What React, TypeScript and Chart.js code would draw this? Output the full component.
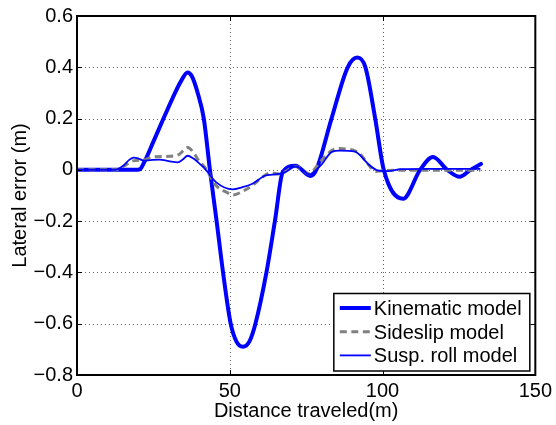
import React, { useEffect, useRef } from 'react';
import { Chart, registerables } from 'chart.js';

Chart.register(...registerables);

const xTickValues = [0, 50, 100, 150];
const yTickValues = [-0.8, -0.6, -0.4, -0.2, 0, 0.2, 0.4, 0.6];
const xTitle = 'Distance traveled(m)';
const yTitle = 'Lateral error (m)';
const seriesNames = ['Kinematic model', 'Sideslip model', 'Susp. roll model'];

const kinematicX = [0, 19, 20.5, 22, 25, 28.3, 31.3, 34, 36.2, 37.6, 39.5, 41.5, 43.5, 45.7, 47.8, 50.3, 52.2, 54.3, 56.4, 58.4, 62, 64.9, 67.3, 71.5, 76.4, 78.3, 83.3, 88.6, 91.7, 94.4, 97.6, 100.4, 106.7, 112.3, 116.5, 121.2, 125.2, 128.8, 132.2];
const kinematicY = [0, 0, 0.002, 0.03, 0.11, 0.2, 0.28, 0.345, 0.38, 0.365, 0.3, 0.2, 0, -0.2, -0.4, -0.6, -0.67, -0.69, -0.67, -0.6, -0.4, -0.19, -0.01, 0.016, -0.024, 0, 0.2, 0.4, 0.438, 0.4, 0.2, 0, -0.113, 0, 0.05, 0, -0.027, 0, 0.023];

const sideslipX = [0, 12.5, 15, 18.3, 21.6, 24.8, 30.3, 33.5, 36.2, 38, 39.5, 42.2, 45.5, 48.7, 51.2, 54, 57.4, 60.6, 63.4, 66, 68, 71.5, 73.5, 76, 78.7, 81, 83.6, 86, 89, 90.8, 92.4, 95.6, 97.6, 100, 105, 115, 132];
const sideslipY = [0, 0, 0.012, 0.035, 0.038, 0.05, 0.053, 0.061, 0.087, 0.07, 0.042, 0.004, -0.061, -0.086, -0.098, -0.085, -0.061, -0.029, -0.012, -0.016, -0.008, 0.013, 0.004, -0.016, 0.017, 0.05, 0.077, 0.083, 0.08, 0.075, 0.065, 0.017, -0.006, -0.003, -0.002, -0.002, -0.002];

const suspRollX = [0, 12.5, 15, 17, 18.5, 20, 21.8, 24, 27, 30, 33, 34.6, 36.2, 38, 40, 42.2, 45.5, 50.9, 54, 57.4, 61.7, 64, 68, 71.5, 73.5, 76, 78, 80, 83.4, 86, 91, 92.3, 95.3, 98.6, 101.9, 106, 115, 132];
const suspRollY = [0, 0, 0.015, 0.038, 0.048, 0.045, 0.036, 0.038, 0.04, 0.034, 0.029, 0.04, 0.055, 0.045, 0.025, 0, -0.048, -0.076, -0.068, -0.054, -0.022, -0.019, -0.01, 0.013, 0.004, -0.018, -0.003, 0.02, 0.07, 0.075, 0.071, 0.061, 0.023, -0.003, -0.005, 0.003, 0.004, 0.004];

const FONT = "'Liberation Sans', Arial, Helvetica, sans-serif";
const BLUE = '#0000ff';
const GRAY = '#808080';
const GRAY_DASH = [7, 4.5];

const toPoints = (xs: number[], ys: number[]) => xs.map((x, i) => ({ x, y: ys[i] }));

const fmtY = (v: number) => {
  const r = Math.round(v * 10) / 10;
  if (r === 0) return '0';
  return (r < 0 ? '\u2212' : '') + Math.abs(r).toFixed(1);
};

const matlabPlugin = {
  id: 'matlabDecor',
  beforeDatasetsDraw(chart: any) {
    const { ctx, chartArea, scales } = chart;
    const { left, right, top, bottom } = chartArea;
    ctx.save();
    ctx.strokeStyle = 'rgba(0,0,0,0.6)';
    ctx.lineWidth = 1;
    ctx.setLineDash([1, 3]);
    xTickValues.forEach((v) => {
      const px = Math.round(scales.x.getPixelForValue(v)) + 0.5;
      ctx.beginPath();
      ctx.moveTo(px, top);
      ctx.lineTo(px, bottom);
      ctx.stroke();
    });
    yTickValues.forEach((v) => {
      const py = Math.round(scales.y.getPixelForValue(v)) + 0.5;
      ctx.beginPath();
      ctx.moveTo(left, py);
      ctx.lineTo(right, py);
      ctx.stroke();
    });
    ctx.restore();
  },
  afterDatasetsDraw(chart: any) {
    const { ctx, chartArea, scales } = chart;
    const { left, right, top, bottom } = chartArea;
    ctx.save();
    ctx.setLineDash([]);
    ctx.strokeStyle = '#000';
    ctx.lineWidth = 2;
    ctx.strokeRect(left, top, right - left, bottom - top);
    const tl = 5;
    ctx.lineWidth = 1;
    xTickValues.forEach((v) => {
      const px = Math.round(scales.x.getPixelForValue(v)) + 0.5;
      ctx.beginPath();
      ctx.moveTo(px, bottom);
      ctx.lineTo(px, bottom - tl);
      ctx.moveTo(px, top);
      ctx.lineTo(px, top + tl);
      ctx.stroke();
    });
    yTickValues.forEach((v) => {
      const py = Math.round(scales.y.getPixelForValue(v)) + 0.5;
      ctx.beginPath();
      ctx.moveTo(left, py);
      ctx.lineTo(left + tl, py);
      ctx.moveTo(right, py);
      ctx.lineTo(right - tl, py);
      ctx.stroke();
    });

    // legend box
    const lw = 196;
    const lh = 77.5;
    const lx = right - 5.5 - lw;
    const ly = bottom - 4 - lh;
    ctx.fillStyle = '#fff';
    ctx.fillRect(lx, ly, lw, lh);
    ctx.strokeStyle = '#000';
    ctx.lineWidth = 1.5;
    ctx.strokeRect(lx, ly, lw, lh);
    const styles = [
      { color: BLUE, width: 4, dash: [] as number[] },
      { color: GRAY, width: 3, dash: GRAY_DASH },
      { color: BLUE, width: 1.8, dash: [] as number[] },
    ];
    ctx.font = `20px ${FONT}`;
    ctx.textBaseline = 'alphabetic';
    ctx.textAlign = 'left';
    seriesNames.forEach((name, i) => {
      const s = styles[i];
      const baseY = ly + 21.5 + i * 23.7;
      const lineY = baseY - 7;
      ctx.beginPath();
      ctx.strokeStyle = s.color;
      ctx.lineWidth = s.width;
      ctx.setLineDash(s.dash);
      ctx.moveTo(lx + 6, lineY);
      ctx.lineTo(lx + 37, lineY);
      ctx.stroke();
      ctx.setLineDash([]);
      ctx.fillStyle = '#000';
      ctx.fillText(name, lx + 40, baseY);
    });
    ctx.restore();
  },
};

export default function App() {
  const canvasRef = useRef<HTMLCanvasElement | null>(null);

  useEffect(() => {
    if (!canvasRef.current) return;
    const chart = new Chart(canvasRef.current, {
      type: 'line',
      data: {
        datasets: [
          {
            label: seriesNames[0],
            data: toPoints(kinematicX, kinematicY),
            borderColor: BLUE,
            borderWidth: 4,
            pointRadius: 0,
            cubicInterpolationMode: 'monotone',
            borderJoinStyle: 'round',
            borderCapStyle: 'round',
            fill: false,
            order: 3,
          },
          {
            label: seriesNames[1],
            data: toPoints(sideslipX, sideslipY),
            borderColor: GRAY,
            borderWidth: 3,
            borderDash: GRAY_DASH,
            pointRadius: 0,
            cubicInterpolationMode: 'monotone',
            fill: false,
            order: 2,
          },
          {
            label: seriesNames[2],
            data: toPoints(suspRollX, suspRollY),
            borderColor: BLUE,
            borderWidth: 1.8,
            pointRadius: 0,
            cubicInterpolationMode: 'monotone',
            borderJoinStyle: 'round',
            fill: false,
            order: 1,
          },
        ],
      } as any,
      options: {
        animation: false,
        responsive: false,
        devicePixelRatio: 1,
        layout: { padding: { left: 0, top: 12, right: 18, bottom: 0 } },
        plugins: { legend: { display: false }, tooltip: { enabled: false } },
        scales: {
          x: {
            type: 'linear',
            min: 0,
            max: 150,
            grid: { display: false, drawTicks: false },
            border: { display: false },
            afterBuildTicks: (scale: any) => {
              scale.ticks = xTickValues.map((v) => ({ value: v }));
            },
            afterFit: (scale: any) => {
              scale.height = 50;
            },
            ticks: {
              padding: 4,
              color: '#000',
              font: { family: FONT, size: 20 },
              maxRotation: 0,
              autoSkip: false,
              callback: (v: any) => String(v),
            },
            title: {
              display: true,
              text: xTitle,
              color: '#000',
              font: { family: FONT, size: 20 },
              padding: { top: 0, bottom: 2 },
            },
          },
          y: {
            type: 'linear',
            min: -0.8,
            max: 0.6,
            grid: { display: false, drawTicks: false },
            border: { display: false },
            afterBuildTicks: (scale: any) => {
              scale.ticks = yTickValues.map((v) => ({ value: v }));
            },
            afterFit: (scale: any) => {
              scale.width = 77;
            },
            ticks: {
              padding: 4,
              color: '#000',
              font: { family: FONT, size: 20 },
              autoSkip: false,
              callback: (v: any) => fmtY(Number(v)),
            },
            title: {
              display: true,
              text: yTitle,
              color: '#000',
              font: { family: FONT, size: 20 },
              padding: { top: 8, bottom: 0 },
            },
          },
        },
      } as any,
      plugins: [matlabPlugin],
    });
    return () => chart.destroy();
  }, []);

  return (
    <div style={{ position: 'absolute', left: 0, top: 0, width: 556, height: 425, background: '#fff' }}>
      <canvas ref={canvasRef} width={556} height={425} style={{ width: 556, height: 425, display: 'block' }} />
    </div>
  );
}
